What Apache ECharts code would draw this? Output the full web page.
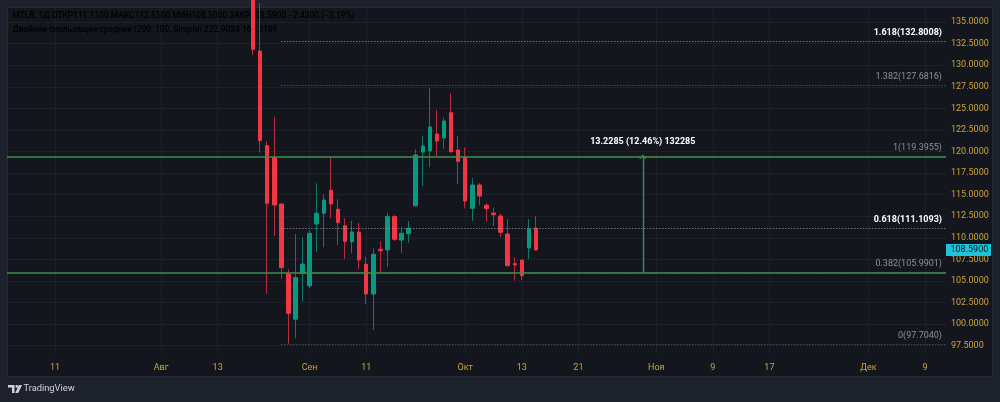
<!DOCTYPE html>
<html><head><meta charset="utf-8">
<script src="https://cdn.jsdelivr.net/npm/echarts@6/dist/echarts.min.js"></script>
<style>html,body{margin:0;padding:0;background:#1e222d;}#c{width:1000px;height:402px;}</style>
</head><body><div id="c"></div>
<script>
// ---------- data ----------
const candleDates = ['2025-08-20','2025-08-21','2025-08-22','2025-08-25','2025-08-26','2025-08-27','2025-08-28','2025-08-29',
  '2025-09-01','2025-09-02','2025-09-03','2025-09-04','2025-09-05','2025-09-08','2025-09-09','2025-09-10','2025-09-11','2025-09-12',
  '2025-09-15','2025-09-16','2025-09-17','2025-09-18','2025-09-19','2025-09-22','2025-09-23','2025-09-24','2025-09-25','2025-09-26',
  '2025-09-29','2025-09-30','2025-10-01','2025-10-02','2025-10-03','2025-10-06','2025-10-07','2025-10-08','2025-10-09','2025-10-10',
  '2025-10-13','2025-10-14','2025-10-15'];
const openVals  = [138.90,131.64,120.67,119.28,113.92,105.81,100.56,105.89,104.42,111.60,112.84,115.50,113.30,111.40,109.55,110.67,106.93,103.49,
  108.67,108.59,112.45,109.74,110.48,113.72,119.94,120.06,122.03,121.56,124.49,120.17,119.36,113.42,116.12,113.77,112.87,112.53,110.44,107.00,
  107.43,108.82,111.11];
const highVals  = [140.20,137.20,121.21,124.03,113.92,106.35,110.44,110.06,110.90,116.31,115.04,119.33,114.46,112.26,111.98,111.75,107.81,108.78,
  109.55,112.91,112.64,111.22,111.95,120.25,121.79,127.32,124.81,123.91,126.74,121.79,120.48,116.93,116.35,113.99,113.49,112.76,112.14,107.74,
  107.43,112.18,112.51];
const lowVals   = [131.18,119.86,103.49,110.21,105.26,97.70,98.36,102.60,104.16,108.39,108.90,112.26,109.17,107.51,108.20,106.35,102.33,99.32,
  106.07,106.65,109.63,108.27,109.43,113.60,116.00,118.17,119.48,120.29,119.86,116.23,113.42,111.98,113.77,111.87,111.37,110.06,106.65,105.03,
  105.11,107.51,108.50];
const closeVals = [131.84,121.25,114.00,113.80,106.54,101.25,105.38,106.96,110.52,112.84,114.38,113.92,111.75,109.59,110.67,107.43,103.49,108.09,
  108.50,112.45,109.83,110.52,111.10,119.59,120.63,122.84,121.21,123.53,119.97,118.86,114.26,116.12,114.84,113.38,112.68,110.64,106.77,106.85,
  105.61,111.02,108.59];

const tickDates = ['2025-07-11','2025-08-01','2025-08-13','2025-09-01','2025-09-11','2025-10-01','2025-10-13','2025-10-21','2025-11-01','2025-11-09','2025-11-17','2025-12-01','2025-12-09'];
const tickTexts = ['11','Авг','13','Сен','11','Окт','13','21','Ноя','9','17','Дек','9'];
const priceTicks = [97.5,100,102.5,105,107.5,110,112.5,115,117.5,120,122.5,125,127.5,130,132.5,135];

const fibRatios = ['0','0.382','0.618','1','1.382','1.618'];
const fibPrices = [97.7040,105.9901,111.1093,119.3955,127.6816,132.8008];
const fibStrong = [false,false,true,false,false,true];
const greenLevels = [105.9901,119.3955];
const measureFrom = 105.9901, measureTo = 119.3955, measureDate = '2025-10-30';
const measureText = '13.2285 (12.46%) 132285';

const ticker = 'MTLR, 1Д';
const maTitle = 'Двойное скользящее среднее (200, 100, Simple)';
const maValues = [222.9024, 160.6109];

// ---------- timeline: trading days up to last bar, calendar days after ----------
function buildTimeline(){
  const out=[]; const d=new Date(Date.UTC(2025,6,2));
  const last=Date.UTC(2025,9,15), end=Date.UTC(2025,11,25);
  while(d.getTime()<=end){
    const wd=d.getUTCDay();
    if(d.getTime()>last || (wd!==0 && wd!==6)) out.push(d.toISOString().slice(0,10));
    d.setUTCDate(d.getUTCDate()+1);
  }
  return out;
}
const timeline = buildTimeline();
const xOf = ds => timeline.indexOf(ds);
const tickIdx = tickDates.map(xOf);

const UP='#089981', DOWN='#f23645', WUP='#0b7a6b', WDOWN='#b82b3a';
const GOLD='#cfa23c', FONT='Roboto, "Noto Sans", sans-serif';

const wickData = candleDates.map((d,i)=>[xOf(d), openVals[i], closeVals[i], lowVals[i], highVals[i]]);
const bodyData = candleDates.map((d,i)=>[xOf(d), openVals[i], closeVals[i], Math.min(openVals[i],closeVals[i]), Math.max(openVals[i],closeVals[i])]);

const X_MIN = 0.214, X_MAX = 132.97;
const fibStartX = 39.0;

const fibLines = fibPrices.map((p,i)=>[
  {coord:[fibStartX,p], lineStyle:{color: fibStrong[i]?'#9a9da6':'#5f626c', type:[1,2], width:1},
   label:{show:true, position:'insideEndTop', distance:4, formatter: fibRatios[i]+'('+p.toFixed(4)+')',
     color: fibStrong[i]?'#ffffff':'#8d909a', fontWeight: fibStrong[i]?'bold':'normal', fontSize:9, fontFamily:FONT}},
  {coord:[X_MAX,p]}
]);
const greenLines = greenLevels.map(p=>[
  {coord:[X_MIN,p], lineStyle:{color:'#3f8e4a', width:1.6, type:'solid'}, label:{show:false}},
  {coord:[X_MAX,p]}
]);
const arrowLine = [
  {coord:[xOf(measureDate)+0.1, measureFrom], symbol:'none', lineStyle:{color:'#3f8e4a', width:1.4, type:'solid'},
   label:{show:true, position:'end', distance:10, formatter: measureText, color:'#ffffff', fontWeight:'bold', fontSize:9, fontFamily:FONT}},
  {coord:[xOf(measureDate)+0.1, measureTo], symbol:'path://M0,9 L5,0 L10,9 L8.6,9.8 L5,3.2 L1.4,9.8 Z', symbolSize:[7,5]}
];

const chart = echarts.init(document.getElementById('c'), null, {renderer:'canvas'});
const last = closeVals.length-1;
const chg = closeVals[last]-closeVals[last-1];
const pct = chg/closeVals[last-1]*100;
const fmt = v => (v<0?'−':'')+Math.abs(v).toFixed(4);

const legend1 = '{g|'+ticker+' ОТКР}{r|'+openVals[last].toFixed(4)+'}{g| МАКС}{r|'+highVals[last].toFixed(4)+'}{g| МИН}{r|'+lowVals[last].toFixed(4)+
  '}{g| ЗАКР}{r|'+closeVals[last].toFixed(4)+' '+fmt(chg)+' ('+(pct<0?'−':'')+Math.abs(pct).toFixed(2)+'%)}';
const legend2 = '{g|'+maTitle+'} {o|'+maValues[0].toFixed(4)+'} {b|'+maValues[1].toFixed(4)+'}';
const LF1 = 8.4, LF2 = 8.4, LW = 500;
const rc1 = {fontSize:LF1, fontWeight:LW, fontFamily:FONT};
const rc2 = {fontSize:LF2, fontWeight:LW, fontFamily:FONT};

const option = {
  backgroundColor:'#1e222d',
  animation:false,
  grid:{left:7, right:54, top:7, bottom:47, containLabel:false},
  xAxis:{type:'value', min:X_MIN, max:X_MAX,
    axisLine:{show:false}, axisTick:{show:false, customValues:tickIdx},
    axisLabel:{customValues:tickIdx, formatter:v=>tickTexts[tickIdx.indexOf(v)]||'', color:GOLD, fontSize:9, fontFamily:FONT, margin:8},
    splitLine:{show:true, lineStyle:{color:'#1d2028', width:1}}},
  yAxis:{type:'value', position:'right', min:96.42, max:136.74,
    axisLine:{show:false}, axisTick:{show:false, customValues:priceTicks},
    axisLabel:{customValues:priceTicks, formatter:v=>v.toFixed(4), color:GOLD, fontSize:9, fontFamily:FONT, margin:5},
    splitLine:{show:true, lineStyle:{color:'#1d2028', width:1}}},
  series:[
    {type:'candlestick', name:'wick', data:wickData, clip:true, barWidth:1, z:2,
     itemStyle:{color:WUP, color0:WDOWN, borderColor:WUP, borderColor0:WDOWN, borderWidth:1}},
    {type:'candlestick', name:'body', data:bodyData, clip:true, barWidth:4, z:3,
     itemStyle:{color:UP, color0:DOWN, borderColor:UP, borderColor0:DOWN, borderWidth:1},
     markLine:{silent:true, symbol:['none','none'], animation:false, data: fibLines.concat(greenLines).concat([arrowLine])}}
  ],
  graphic:[
    {type:'rect', z:-5, shape:{x:7.5, y:7.5, width:985, height:369}, style:{fill:'#13161d', stroke:'#262a34', lineWidth:1}},
    {type:'text', z:1, x:12.5, y:12, style:{text:legend1, fontSize:LF1, fontWeight:LW, fontFamily:FONT,
      rich:{g:Object.assign({color:GOLD},rc1), r:Object.assign({color:'#ea4350'},rc1)}}},
    {type:'text', z:1, x:12.5, y:25.5, style:{text:legend2, fontSize:LF2, fontWeight:LW, fontFamily:FONT,
      rich:{g:Object.assign({color:GOLD},rc2), o:Object.assign({color:'#f57c00'},rc2), b:Object.assign({color:'#2a8fe6'},rc2)}}},
    {type:'group', x:8, y:385, children:[
      {type:'polygon', shape:{points:[[0,0],[6.5,0],[6.5,8],[4,8],[4,2.6],[0,2.6]]}, style:{fill:'#d1d4dc'}},
      {type:'circle', shape:{cx:8.8, cy:1.4, r:1.4}, style:{fill:'#d1d4dc'}},
      {type:'polygon', shape:{points:[[11,0],[14,0],[10.2,8],[7.2,8]]}, style:{fill:'#d1d4dc'}}
    ]},
    {type:'text', x:23.5, y:384, style:{text:'TradingView', fill:'#d1d4dc', fontSize:9.3, fontFamily:FONT}}
  ]
};
chart.setOption(option);

// last price box on the price scale
const yLast = chart.convertToPixel({yAxisIndex:0}, closeVals[last]);
chart.setOption({graphic: option.graphic.concat([
  {type:'rect', z:20, shape:{x:946, y:Math.round(yLast)-6, width:45, height:12}, style:{fill:'#1ec3da'}},
  {type:'text', z:21, x:950.5, y:Math.round(yLast), style:{text:closeVals[last].toFixed(4), fill:'#0b0e14', fontSize:9, fontFamily:FONT, verticalAlign:'middle'}}
])});
</script></body></html>
